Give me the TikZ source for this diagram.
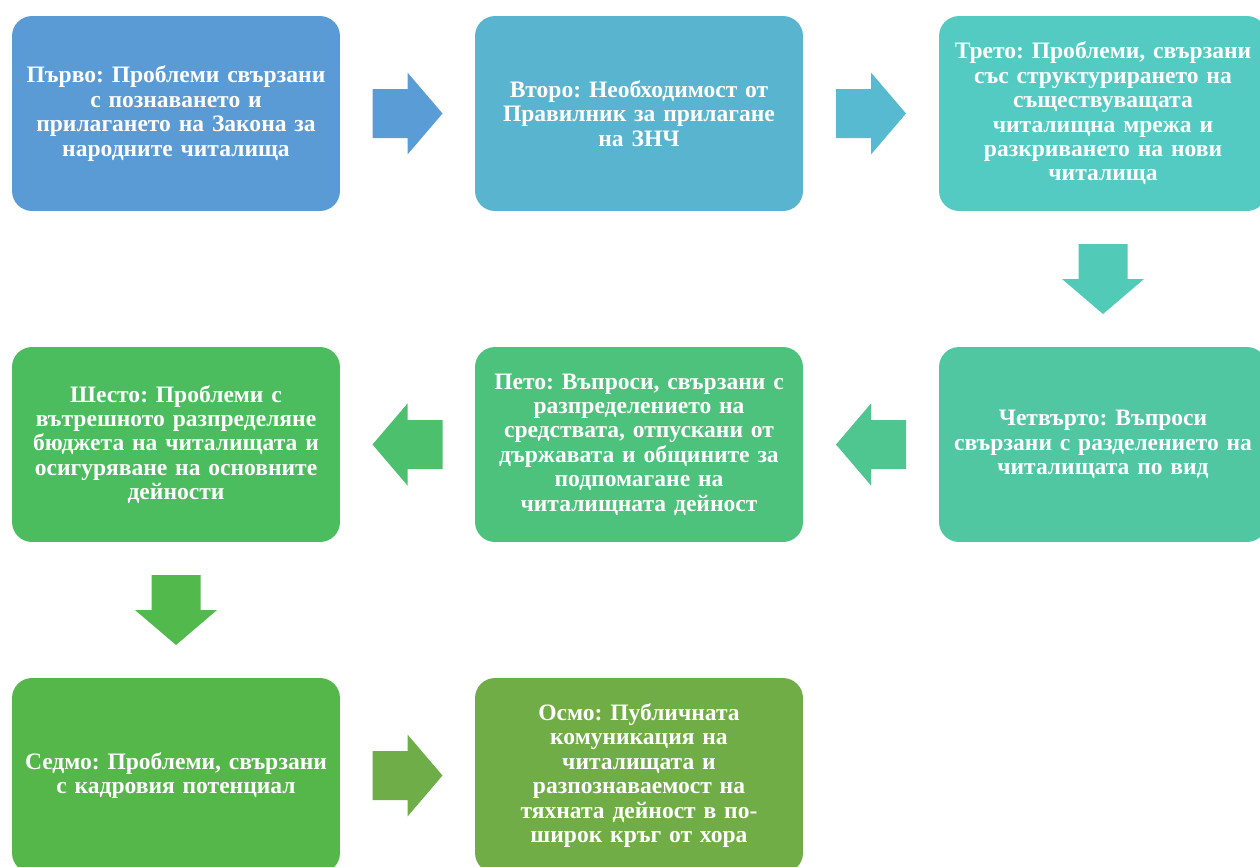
\documentclass[tikz,border=0pt]{standalone}
\usepackage{fontspec}
\setmainfont{Liberation Serif}
\usetikzlibrary{calc}
\frenchspacing

\definecolor{boxA}{HTML}{5B9BD5}
\definecolor{boxB}{HTML}{59B5CF}
\definecolor{boxC}{HTML}{53CBC3}
\definecolor{boxD}{HTML}{50C7A1}
\definecolor{boxE}{HTML}{4DC27C}
\definecolor{boxF}{HTML}{4BBD5E}
\definecolor{boxG}{HTML}{55B74A}
\definecolor{boxH}{HTML}{70AD47}
\definecolor{arrA}{HTML}{5A9CD6}
\definecolor{arrB}{HTML}{58BAD0}
\definecolor{arrC}{HTML}{52CAB8}
\definecolor{arrD}{HTML}{4FC590}
\definecolor{arrE}{HTML}{4CC06C}
\definecolor{arrF}{HTML}{52B94D}
\definecolor{arrG}{HTML}{6EAD47}

\tikzset{
  stage/.style={rounded corners=0.4cm, minimum width=6.56cm, minimum height=3.9cm,
    text width=6.3cm, align=center, inner sep=0pt, text=white,
    font=\bfseries\fontsize{13.4}{13.9}\selectfont},
}

\begin{document}
\begin{tikzpicture}[x=0.02cm,y=-0.02cm]
    \clip (0,0) rectangle (1260,866);

    % first row
    \node[stage, fill=boxA] (st1) at (176,113.5) {Първо: Проблеми свързани\\ с познаването и\\ прилагането на Закона за\\ народните читалища};
    \node[stage, fill=boxB] (st2) at (639,113.5) {Второ: Необходимост от\\ Правилник за прилагане\\ на ЗНЧ};
    \node[stage, fill=boxC] (st3) at (1103,113.5) {Трето: Проблеми, свързани\\ със структурирането на\\ съществуващата\\ читалищна мрежа и\\ разкриването на нови\\ читалища};

    % second row
    \node[stage, fill=boxD] (st4) at (1103,444.5) {Четвърто: Въпроси\\ свързани с разделението на\\ читалищата по вид};
    \node[stage, fill=boxE] (st5) at (639,444.5) {Пето: Въпроси, свързани с\\ разпределението на\\ средствата, отпускани от\\ държавата и общините за\\ подпомагане на\\ читалищната дейност};
    \node[stage, fill=boxF] (st6) at (176,444.5) {Шесто: Проблеми с\\ вътрешното разпределяне\\ бюджета на читалищата и\\ осигуряване на основните\\ дейности};

    % third row
    \node[stage, fill=boxG] (st7) at (176,775.5) {Седмо: Проблеми, свързани\\ с кадровия потенциал};
    \node[stage, fill=boxH] (st8) at (639,775.5) {Осмо: Публичната\\ комуникация на\\ читалищата и\\ разпознаваемост на\\ тяхната дейност в по-\\ широк кръг от хора};

    % block arrows
    \fill[arrA, shift={($(st1.east)!0.5!(st2.west)$)}] (-35,-24.5) -- (0,-24.5) -- (0,-41) -- (35,0) -- (0,41) -- (0,24.5) -- (-35,24.5) -- cycle;
    \fill[arrB, shift={($(st2.east)!0.5!(st3.west)$)}] (-35,-24.5) -- (0,-24.5) -- (0,-41) -- (35,0) -- (0,41) -- (0,24.5) -- (-35,24.5) -- cycle;
    \fill[arrC, shift={($(st3.south)!0.5!(st4.north)$)}, rotate=-90] (-35,-24.5) -- (0,-24.5) -- (0,-41) -- (35,0) -- (0,41) -- (0,24.5) -- (-35,24.5) -- cycle;
    \fill[arrD, shift={($(st4.west)!0.5!(st5.east)$)}, rotate=180] (-35,-24.5) -- (0,-24.5) -- (0,-41) -- (35,0) -- (0,41) -- (0,24.5) -- (-35,24.5) -- cycle;
    \fill[arrE, shift={($(st5.west)!0.5!(st6.east)$)}, rotate=180] (-35,-24.5) -- (0,-24.5) -- (0,-41) -- (35,0) -- (0,41) -- (0,24.5) -- (-35,24.5) -- cycle;
    \fill[arrF, shift={($(st6.south)!0.5!(st7.north)$)}, rotate=-90] (-35,-24.5) -- (0,-24.5) -- (0,-41) -- (35,0) -- (0,41) -- (0,24.5) -- (-35,24.5) -- cycle;
    \fill[arrG, shift={($(st7.east)!0.5!(st8.west)$)}] (-35,-24.5) -- (0,-24.5) -- (0,-41) -- (35,0) -- (0,41) -- (0,24.5) -- (-35,24.5) -- cycle;

\end{tikzpicture}
\end{document}
